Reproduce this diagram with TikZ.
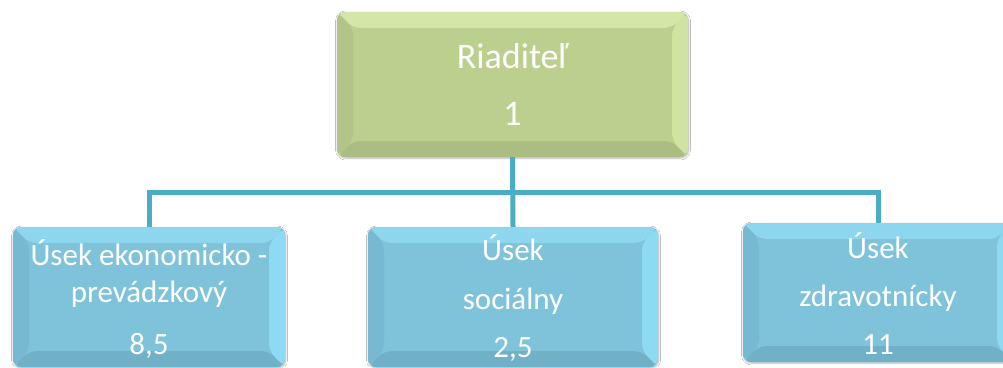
\documentclass[tikz,border=0pt]{standalone}
\usepackage{fontspec}
\setmainfont{Carlito}
\usetikzlibrary{shadows.blur}
\definecolor{topface}{HTML}{BBCF8F}
\definecolor{topT}{HTML}{D4E7A8}
\definecolor{topL}{HTML}{B2C588}
\definecolor{topB}{HTML}{AABD82}
\definecolor{topR}{HTML}{D0E4A2}
\definecolor{lowface}{HTML}{7FC3DB}
\definecolor{lowT}{HTML}{8ED6EE}
\definecolor{lowL}{HTML}{77B9D0}
\definecolor{lowB}{HTML}{71B1C7}
\definecolor{lowR}{HTML}{8FDAF3}
\definecolor{connc}{HTML}{4BACC6}
\newcommand\mybevel[5]{%
  \path (path picture bounding box.north west) coordinate (bvNW)
        (path picture bounding box.north east) coordinate (bvNE)
        (path picture bounding box.south west) coordinate (bvSW)
        (path picture bounding box.south east) coordinate (bvSE);
  \fill[#2] (bvNW) -- (bvNE) -- ([shift={(-#1,#1)}]bvNE) -- ([shift={(#1,#1)}]bvNW) -- cycle;
  \fill[#3] (bvNW) -- ([shift={(#1,#1)}]bvNW) -- ([shift={(#1,-#1)}]bvSW) -- (bvSW) -- cycle;
  \fill[#4] (bvSW) -- ([shift={(#1,-#1)}]bvSW) -- ([shift={(-#1,-#1)}]bvSE) -- (bvSE) -- cycle;
  \fill[#5] (bvNE) -- (bvSE) -- ([shift={(-#1,-#1)}]bvSE) -- ([shift={(-#1,#1)}]bvNE) -- cycle;
}
\tikzset{
  boxbase/.style={rectangle, rounded corners=8pt, inner sep=0pt, text=white, align=center,
    blur shadow={shadow blur steps=6, shadow xshift=0.5pt, shadow yshift=-1pt, shadow opacity=30, shadow blur extra rounding=2pt}},
  topbox/.style={boxbase, fill=topface, minimum width=351pt, minimum height=145pt,
    font=\fontsize{36}{57}\selectfont, path picture={\mybevel{16}{topT}{topL}{topB}{topR}}},
  lowbox/.style={boxbase, fill=lowface, minimum height=140pt,
    font=\fontsize{31}{37}\selectfont, path picture={\mybevel{16}{lowT}{lowL}{lowB}{lowR}}},
  conn/.style={draw=connc, line width=5pt}
}
\begin{document}
\begin{tikzpicture}[x=1pt,y=-1pt]
  \useasboundingbox (0,0) rectangle (1003,367);
  \clip (0,0) rectangle (1003,367);
  \fill[white] (0,0) rectangle (1003,367);
  \coordinate (hub) at (512.5,192);
  \node[topbox] (top) at (512.5,84.5) {Riaditeľ\\1};
  \node[lowbox, minimum width=272pt] (b1) at (149,297) {\rule{0pt}{30pt}Úsek ekonomicko -\\prevádzkový\\[15pt]8,5};
  \node[lowbox, minimum width=290pt] (b2) at (513,297) {\rule{0pt}{28pt}Úsek\\[11.5pt]sociálny\\[11.5pt]2,5};
  \node[lowbox, minimum width=270pt, minimum height=139pt] (b3) at (878,292.5) {\rule{0pt}{27pt}Úsek\\[11pt]zdravotnícky\\[11pt]11};
  \draw[conn] (top.south) -- (b2.north);
  \draw[conn] (b1.north) |- (hub) -| (b3.north);
\end{tikzpicture}
\end{document}
